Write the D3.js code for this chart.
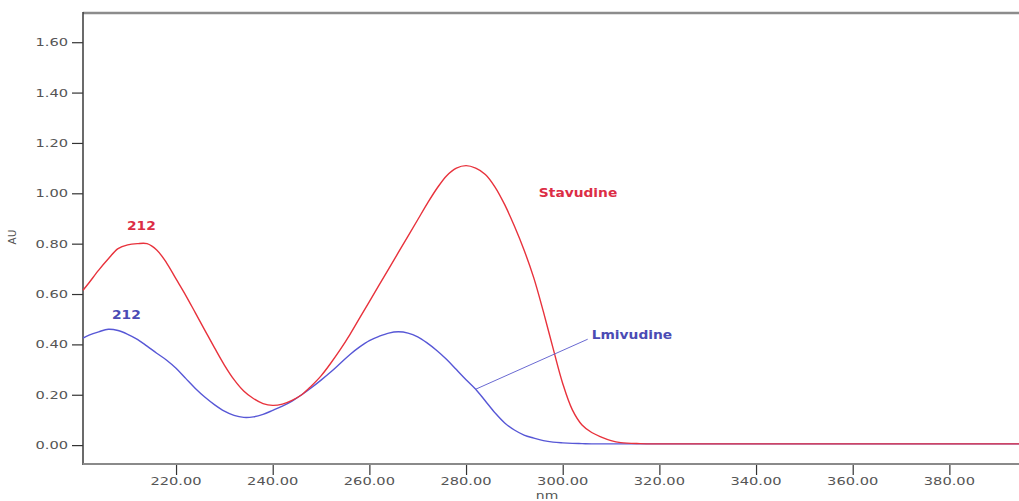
<!DOCTYPE html>
<html>
<head>
<meta charset="utf-8">
<script src="https://cdn.jsdelivr.net/npm/d3@7/dist/d3.min.js"></script>
<style>
  html, body { margin: 0; padding: 0; background: #fff; }
  svg { display: block; }
  text { font-family: "DejaVu Sans", Verdana, sans-serif; }
</style>
</head>
<body>
<svg id="chart" width="1019" height="501"></svg>
<script>
// Wavelength grid (nm) and absorbance (AU) of the two spectra
const wavelengths = [200.75, 202, 204, 206, 208, 210, 212, 214, 216, 218, 220, 222, 224, 226, 228, 230,
  232, 234, 236, 238, 240, 242, 244, 246, 248, 250, 252, 254, 256, 258, 260, 262, 264, 266, 268, 270,
  272, 274, 276, 278, 280, 282, 284, 286, 288, 290, 292, 294, 296, 298, 300, 302, 304, 306, 308, 310,
  312, 316, 320, 330, 340, 350, 360, 370, 380, 390, 396];

const stavudine = [0.615, 0.645, 0.695, 0.74, 0.78, 0.795, 0.80, 0.80, 0.775, 0.725, 0.66, 0.595, 0.525, 0.455, 0.385, 0.318,
  0.26, 0.215, 0.185, 0.165, 0.158, 0.163, 0.178, 0.20, 0.235, 0.275, 0.325, 0.38, 0.44, 0.505, 0.57, 0.635, 0.70, 0.765, 0.83, 0.895,
  0.96, 1.02, 1.07, 1.10, 1.11, 1.10, 1.075, 1.025, 0.955, 0.87, 0.775, 0.665, 0.53, 0.385, 0.245, 0.14, 0.08, 0.05, 0.032, 0.018,
  0.01, 0.006, 0.005, 0.005, 0.005, 0.005, 0.005, 0.005, 0.005, 0.005, 0.005];

const lamivudine = [0.425, 0.437, 0.45, 0.46, 0.455, 0.44, 0.42, 0.393, 0.365, 0.338, 0.305, 0.265, 0.225, 0.19, 0.16, 0.135,
  0.118, 0.11, 0.112, 0.122, 0.138, 0.155, 0.175, 0.20, 0.228, 0.258, 0.29, 0.325, 0.36, 0.39, 0.415, 0.432, 0.445, 0.45, 0.445, 0.43,
  0.405, 0.375, 0.34, 0.30, 0.26, 0.222, 0.175, 0.128, 0.088, 0.06, 0.04, 0.028, 0.018, 0.012, 0.009, 0.007, 0.006, 0.005, 0.005, 0.005,
  0.005, 0.005, 0.005, 0.005, 0.005, 0.005, 0.005, 0.005, 0.005, 0.005, 0.005];

const xMajorTicks = [220, 240, 260, 280, 300, 320, 340, 360, 380];
const yMajorTicks = [0.0, 0.2, 0.4, 0.6, 0.8, 1.0, 1.2, 1.4, 1.6];

const peakLabels = [
  { series: "stavudine", nm: 212, text: "212" },
  { series: "lamivudine", nm: 212, text: "212" }
];

const seriesNames = { stavudine: "Stavudine", lamivudine: "Lmivudine" };
const colors = { stavudine: "#e8323c", lamivudine: "#5757d6" };
const textColors = { stavudine: "#dc2d45", lamivudine: "#4b4bb4" };

// ---- layout ----
const svg = d3.select("#chart");
const plotLeft = 83, plotTop = 12, plotBottom = 464, plotRight = 1025.5;
const x = d3.scaleLinear().domain([200.75, 395.75]).range([plotLeft, plotRight]);
const y = d3.scaleLinear().domain([-0.075, 1.72]).range([plotBottom, plotTop]);
const stretch = 1.33;

function stretchedText(g, px, py, str, opts) {
  return g.append("text")
    .attr("transform", `translate(${px},${py}) scale(${opts.sx || stretch},1)`)
    .attr("text-anchor", opts.anchor || "middle")
    .attr("font-size", opts.size || 11)
    .attr("font-weight", opts.weight || "normal")
    .attr("fill", opts.fill || "#555")
    .text(str);
}

// frame: top border, left and bottom axes
svg.append("line").attr("x1", plotLeft).attr("x2", 1019).attr("y1", plotTop + 1).attr("y2", plotTop + 1)
  .attr("stroke", "#8c8c8c").attr("stroke-width", 2.5);

// y axis with minor ticks every 0.05
const yAxis = d3.axisLeft(y).tickValues(yMajorTicks).tickSize(11).tickFormat(d3.format(".2f"));
const yMinor = d3.axisLeft(y).tickValues(d3.range(-0.05, 1.7001, 0.05)).tickSize(6).tickFormat("");
const yg = svg.append("g").attr("transform", `translate(${plotLeft},0)`);
yg.call(yMinor);
yg.call(yAxis);
yg.selectAll("path.domain").remove();
yg.selectAll("line").attr("stroke", "#333").attr("stroke-width", 1.2);
yg.selectAll(".tick text").remove();
yMajorTicks.forEach(v => stretchedText(svg, plotLeft - 15, y(v) + 4, d3.format(".2f")(v), { anchor: "end" }));
svg.append("line").attr("x1", plotLeft).attr("x2", plotLeft).attr("y1", plotTop).attr("y2", plotBottom + 1)
  .attr("stroke", "#3a3a3a").attr("stroke-width", 1.5);

// x axis with minor ticks every 5 nm
const xAxis = d3.axisBottom(x).tickValues(xMajorTicks).tickSize(11).tickFormat("");
const xMinor = d3.axisBottom(x).tickValues(d3.range(205, 396, 5)).tickSize(6).tickFormat("");
const xg = svg.append("g").attr("transform", `translate(0,${plotBottom})`);
xg.call(xMinor);
xg.call(xAxis);
xg.selectAll("path.domain").remove();
xg.selectAll("line").attr("stroke", "#333").attr("stroke-width", 1.2);
svg.append("line").attr("x1", plotLeft).attr("x2", 1019).attr("y1", plotBottom).attr("y2", plotBottom)
  .attr("stroke", "#8a8a8a").attr("stroke-width", 2);
xMajorTicks.forEach(v => stretchedText(svg, x(v), plotBottom + 21, d3.format(".2f")(v), {}));

// axis titles
svg.append("text")
  .attr("transform", `translate(16,237) rotate(-90)`)
  .attr("text-anchor", "middle").attr("font-size", 10.5).attr("fill", "#555").text("AU");
stretchedText(svg, 547, 499, "nm", { size: 10.5 });

// spectra
const line = d3.line().x((d, i) => x(wavelengths[i])).y(d => y(d)).curve(d3.curveCatmullRom.alpha(0.5));
const series = { lamivudine, stavudine };
["lamivudine", "stavudine"].forEach(key => {
  svg.append("path").datum(series[key])
    .attr("d", line).attr("fill", "none")
    .attr("stroke", colors[key]).attr("stroke-width", 1.4);
});

// peak labels
peakLabels.forEach(p => {
  const i = wavelengths.indexOf(p.nm);
  const v = series[p.series][i];
  const dx = p.series === "stavudine" ? 4 : -11;
  const dy = p.series === "stavudine" ? -14 : -20;
  stretchedText(svg, x(p.nm) + dx, y(v) + dy, p.text,
    { size: 11.5, weight: "bold", fill: textColors[p.series], sx: 1.2 });
});

// series names
const iPeak = wavelengths.indexOf(280);
stretchedText(svg, x(280) + 112, y(stavudine[iPeak]) + 31, seriesNames.stavudine,
  { size: 11.5, weight: "bold", fill: textColors.stavudine, sx: 1.2, anchor: "middle" });

const iPtr = wavelengths.indexOf(282);
const px0 = x(282), py0 = y(lamivudine[iPtr]);
svg.append("line").attr("x1", px0).attr("y1", py0).attr("x2", px0 + 112).attr("y2", py0 - 50)
  .attr("stroke", "#6a6ad2").attr("stroke-width", 1);
stretchedText(svg, px0 + 116, py0 - 50, seriesNames.lamivudine,
  { size: 11.5, weight: "bold", fill: textColors.lamivudine, sx: 1.2, anchor: "start" });
</script>
</body>
</html>
